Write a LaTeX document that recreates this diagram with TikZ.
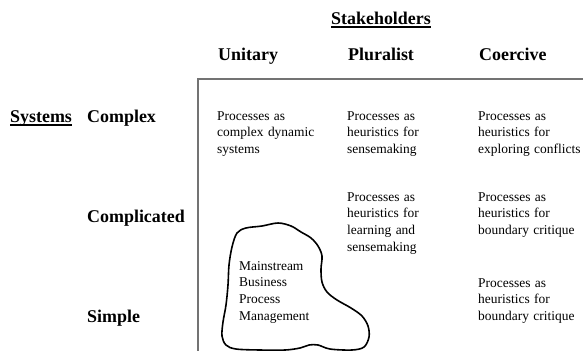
\documentclass[tikz,border=0pt]{standalone}
\usepackage{fontspec}
\setmainfont{Liberation Serif}
\begin{document}
\begin{tikzpicture}[x=1bp,y=-1bp,
  head/.style={font=\fontsize{18}{21}\selectfont\bfseries, inner sep=0pt, anchor=base west},
  cell/.style={font=\fontsize{13.5}{17}\selectfont, inner sep=0pt, anchor=base west, text width=135bp, align=left},
  ul/.style={line width=1.3bp},
  grid/.style={draw=black!55, line width=1.2bp},
  blob/.style={draw=black, line width=1.6bp, line join=round}]
\useasboundingbox (0,0) rectangle (583,351);
% headings
\node[head] (stk) at (331,24) {Stakeholders};
\draw[ul] ([yshift=-3bp]stk.base west) -- ([yshift=-3bp]stk.base east);
\node[head] (uni) at (218,60) {Unitary};
\node[head] (plu) at (348,60) {Pluralist};
\node[head] (coe) at (479,60) {Coercive};
\node[head] (sys) at (10,122) {Systems};
\draw[ul] ([yshift=-3bp]sys.base west) -- ([yshift=-3bp]sys.base east);
\node[head] (cpx) at (87,122) {Complex};
\node[head] (cpd) at (87,222) {Complicated};
\node[head] (smp) at (87,322) {Simple};
% grid lines
\coordinate (corner) at (198,79);
\coordinate (right) at (583,79);
\coordinate (bottom) at (198,351);
\draw[grid] (right) -- (corner) -- (bottom);
% cells
\node[cell] (c11) at (217,120) {Processes as\\complex dynamic\\systems};
\node[cell] (c12) at (347,120) {Processes as\\heuristics for\\sensemaking};
\node[cell] (c13) at (478,120) {Processes as\\heuristics for\\exploring conflicts};
\node[cell] (c22) at (347,201) {Processes as\\heuristics for\\learning and\\sensemaking};
\node[cell] (c23) at (478,201) {Processes as\\heuristics for\\boundary critique};
\node[cell] (c33) at (478,287) {Processes as\\heuristics for\\boundary critique};
% blob
\begin{scope}
\clip (0,0) rectangle (583,351);
\draw[blob] plot[smooth cycle, tension=0.55] coordinates {
 (237,233) (246,228) (262,226) (278,223) (291,226) (301,232) (311,238)
 (318,246) (322,256) (321,269) (322,282) (327,292) (337,300) (351,308)
 (362,316) (368,326) (369,337) (364,347) (352,350) (330,349) (318,345)
 (309,345) (300,348) (285,350) (260,350) (236,349) (226,345) (222,336)
 (223,322) (226,305) (228,285) (229,265) (232,247)};
\end{scope}
\node[cell] (mbpm) at (239,270) {Mainstream\\Business\\Process\\Management};
\end{tikzpicture}
\end{document}
